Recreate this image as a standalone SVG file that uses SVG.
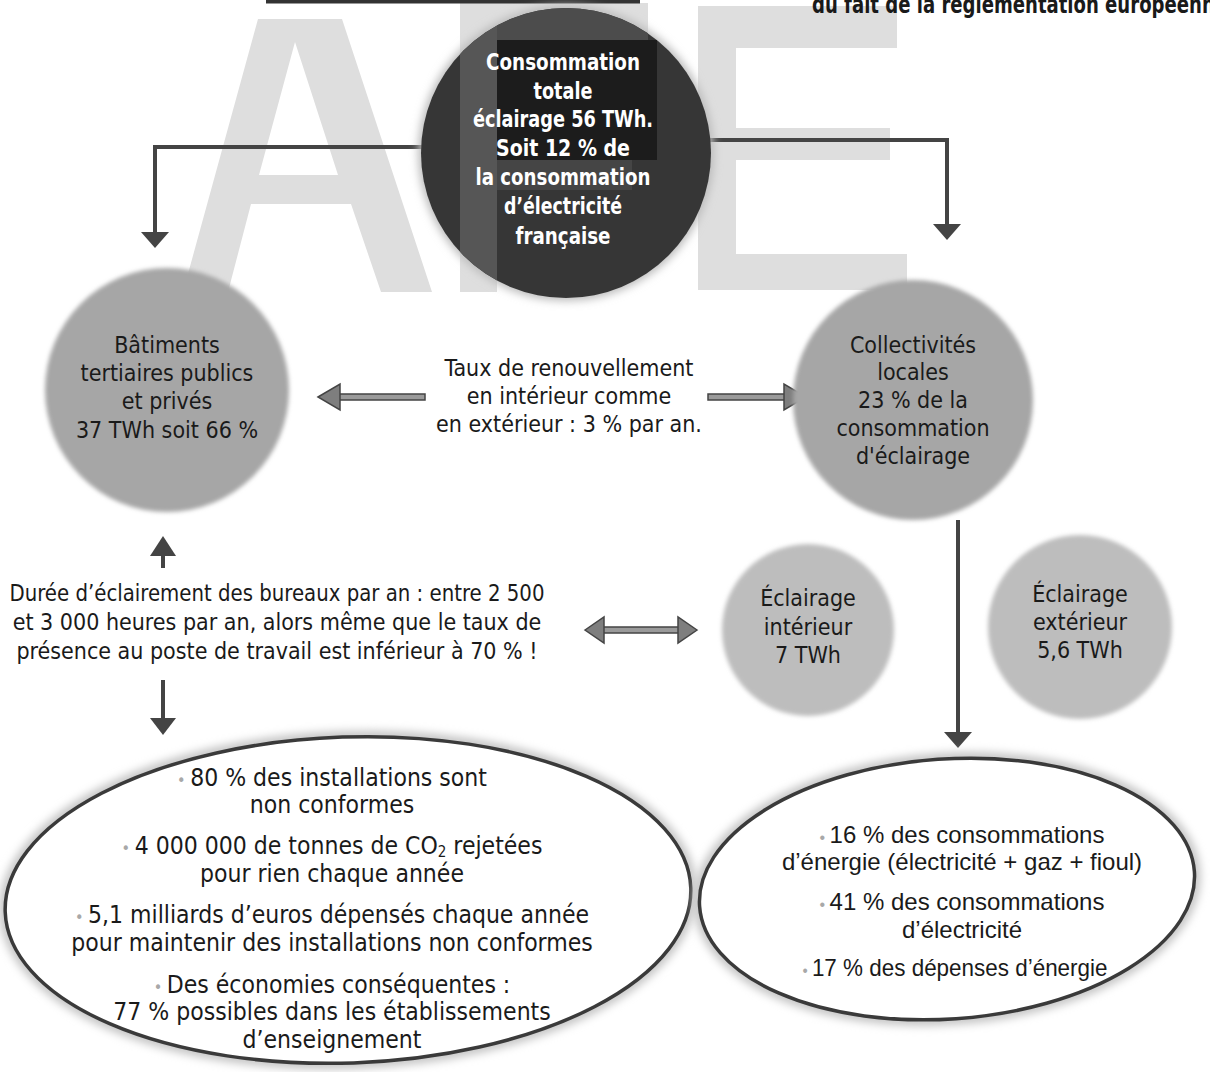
<svg xmlns="http://www.w3.org/2000/svg" width="1210" height="1072" viewBox="0 0 1210 1072">
<style>
text{font-family:'Liberation Sans Narrow','DejaVu Sans Condensed','Liberation Sans',sans-serif;text-anchor:middle}
.w{fill:#fff;font-weight:bold;font-size:23px}
.t{fill:#1a1a1a;font-size:23px}
.e{fill:#1a1a1a;font-size:24.5px}
.h{fill:#1a1a1a;font-size:24px;font-family:'Liberation Sans',Arial,sans-serif}
.bul{fill:#a8a8a8;font-size:16px}
.wm{fill:#dedede}
.con{stroke:#444;stroke-width:4;fill:none}
.head{fill:#444}
.ga{fill:#9a9a9a;stroke:#444;stroke-width:1.5}
.gh{fill:#7e7e7e;stroke:#444;stroke-width:1.5}
.gc{fill:#a6a6a6;filter:url(#soft)}
.lc{fill:#bdbdbd;filter:url(#soft)}
.halo{fill:none;stroke:#c4c4c4;stroke-width:12;filter:url(#blur)}
.eo{fill:#fff;stroke:#3a3a3a;stroke-width:3.5}
</style>
<defs>
<filter id="soft" x="-10%" y="-10%" width="120%" height="120%"><feGaussianBlur stdDeviation="2"/></filter>
<filter id="blur" x="-10%" y="-10%" width="120%" height="120%"><feGaussianBlur stdDeviation="4"/></filter>
<clipPath id="cc"><circle cx="566" cy="153" r="145"/></clipPath>
</defs>
<rect width="1210" height="1072" fill="#fff"/>

<!-- watermark AFE -->
<g id="watermark">
<path class="wm" fill-rule="evenodd" d="M258,19 L342,19 L432,292 L381,292 L351,204 L251,204 L228,292 L183,292 Z M295,42 L338,175 L259,175 Z"/>
<path class="wm" d="M460,3 H648 V40 H497 V160 H632 V190 H497 V292 H460 Z"/>
<path class="wm" d="M698,6 H897 V48 H736 V128 H890 V160 H736 V254 H907 V290 H698 Z"/>
</g>

<!-- top remnants -->
<rect x="266" y="0" width="374" height="3.5" fill="#333"/>
<text x="812" y="13" textLength="415" lengthAdjust="spacingAndGlyphs" style="text-anchor:start;font-weight:bold;font-size:24px;fill:#1a1a1a">du fait de la réglementation européenne</text>

<!-- connectors -->
<g id="connectors">
<path class="con" d="M425,147 H155 V233"/>
<polygon class="head" points="141,232 169,232 155,248"/>
<path class="con" d="M708,140 H947 V225"/>
<polygon class="head" points="933,224 961,224 947,240"/>
<path class="con" d="M958,520 V733"/>
<polygon class="head" points="944,732 972,732 958,748"/>
<path class="con" d="M163,568 V553"/>
<polygon class="head" points="150,556 176,556 163,536"/>
<path class="con" d="M163,680 V720"/>
<polygon class="head" points="150,718 176,718 163,735"/>
<rect class="ga" x="338" y="394" width="87" height="6"/>
<polygon class="gh" points="318,397 340,384 340,410"/>
<rect class="ga" x="708" y="394" width="78" height="6"/>
<polygon class="gh" points="806,397 784,384 784,410"/>
<rect class="ga" x="602" y="627" width="78" height="6"/>
<polygon class="gh" points="585,630 604,617 604,643"/>
<polygon class="gh" points="697,630 678,617 678,643"/>
</g>

<!-- central dark node -->
<g id="total">
<circle cx="566" cy="153" r="148" fill="#bcbcbc" filter="url(#blur)"/>
<circle cx="566" cy="153" r="145" fill="#363636"/>
<g clip-path="url(#cc)">
<rect x="460" y="0" width="37" height="300" fill="#565656"/>
<rect x="497" y="0" width="151" height="40" fill="#4c4c4c"/>
<rect x="497" y="40" width="160" height="120" fill="#1c1c1c"/>
<rect x="497" y="160" width="135" height="30" fill="#454545"/>
</g>
<text class="w" x="563" y="70" textLength="154" lengthAdjust="spacingAndGlyphs">Consommation</text>
<text class="w" x="563" y="99" textLength="59" lengthAdjust="spacingAndGlyphs">totale</text>
<text class="w" x="563" y="127" textLength="180" lengthAdjust="spacingAndGlyphs">éclairage 56 TWh.</text>
<text class="w" x="563" y="156" textLength="134" lengthAdjust="spacingAndGlyphs">Soit 12 % de</text>
<text class="w" x="563" y="185" textLength="175" lengthAdjust="spacingAndGlyphs">la consommation</text>
<text class="w" x="563" y="214" textLength="118" lengthAdjust="spacingAndGlyphs">d’électricité</text>
<text class="w" x="563" y="244" textLength="95" lengthAdjust="spacingAndGlyphs">française</text>
</g>

<g id="batiments">
<circle class="gc" cx="167" cy="390" r="122"/>
<text class="t" x="167" y="353">Bâtiments</text>
<text class="t" x="167" y="381">tertiaires publics</text>
<text class="t" x="167" y="409">et privés</text>
<text class="t" x="167" y="438">37 TWh soit 66 %</text>
</g>

<g id="renouvellement">
<text class="t" x="569" y="376">Taux de renouvellement</text>
<text class="t" x="569" y="404">en intérieur comme</text>
<text class="t" x="569" y="432">en extérieur : 3 % par an.</text>
</g>

<g id="collectivites">
<circle class="gc" cx="913" cy="400" r="120"/>
<text class="t" x="913" y="353">Collectivités</text>
<text class="t" x="913" y="380">locales</text>
<text class="t" x="913" y="408">23 % de la</text>
<text class="t" x="913" y="436">consommation</text>
<text class="t" x="913" y="464">d'éclairage</text>
</g>

<g id="duree">
<text class="t" x="277" y="601" textLength="535" lengthAdjust="spacingAndGlyphs">Durée d’éclairement des bureaux par an : entre 2 500</text>
<text class="t" x="277" y="630">et 3 000 heures par an, alors même que le taux de</text>
<text class="t" x="277" y="659">présence au poste de travail est inférieur à 70 % !</text>
</g>

<g id="interieur">
<circle class="lc" cx="808" cy="630" r="86"/>
<text class="t" x="808" y="606">Éclairage</text>
<text class="t" x="808" y="635">intérieur</text>
<text class="t" x="808" y="663">7 TWh</text>
</g>

<g id="exterieur">
<circle class="lc" cx="1080" cy="627" r="92"/>
<text class="t" x="1080" y="602">Éclairage</text>
<text class="t" x="1080" y="630">extérieur</text>
<text class="t" x="1080" y="658">5,6 TWh</text>
</g>

<g id="constats-batiments">
<ellipse class="halo" cx="348" cy="900" rx="343" ry="163" transform="rotate(-2 348 900)"/>
<ellipse class="eo" cx="348" cy="900" rx="343" ry="163" transform="rotate(-2 348 900)"/>
<text class="e" x="332" y="786"><tspan class="bul">• </tspan>80 % des installations sont</text>
<text class="e" x="332" y="813">non conformes</text>
<text class="e" x="332" y="854"><tspan class="bul">• </tspan>4 000 000 de tonnes de CO<tspan dy="3" font-size="15">2</tspan><tspan dy="-3"> rejetées</tspan></text>
<text class="e" x="332" y="882">pour rien chaque année</text>
<text class="e" x="332" y="923"><tspan class="bul">• </tspan>5,1 milliards d’euros dépensés chaque année</text>
<text class="e" x="332" y="951">pour maintenir des installations non conformes</text>
<text class="e" x="332" y="993"><tspan class="bul">• </tspan>Des économies conséquentes :</text>
<text class="e" x="332" y="1020">77 % possibles dans les établissements</text>
<text class="e" x="332" y="1048">d’enseignement</text>
</g>

<g id="constats-collectivites">
<ellipse class="halo" cx="947" cy="889" rx="248" ry="130" transform="rotate(-4 947 889)"/>
<ellipse class="eo" cx="947" cy="889" rx="248" ry="130" transform="rotate(-4 947 889)"/>
<text class="h" x="962" y="843"><tspan class="bul">• </tspan>16 % des consommations</text>
<text class="h" x="962" y="870">d’énergie (électricité + gaz + fioul)</text>
<text class="h" x="962" y="910"><tspan class="bul">• </tspan>41 % des consommations</text>
<text class="h" x="962" y="938">d’électricité</text>
<text class="h" x="955" y="976" textLength="305" lengthAdjust="spacingAndGlyphs"><tspan class="bul">• </tspan>17 % des dépenses d’énergie</text>
</g>
</svg>
